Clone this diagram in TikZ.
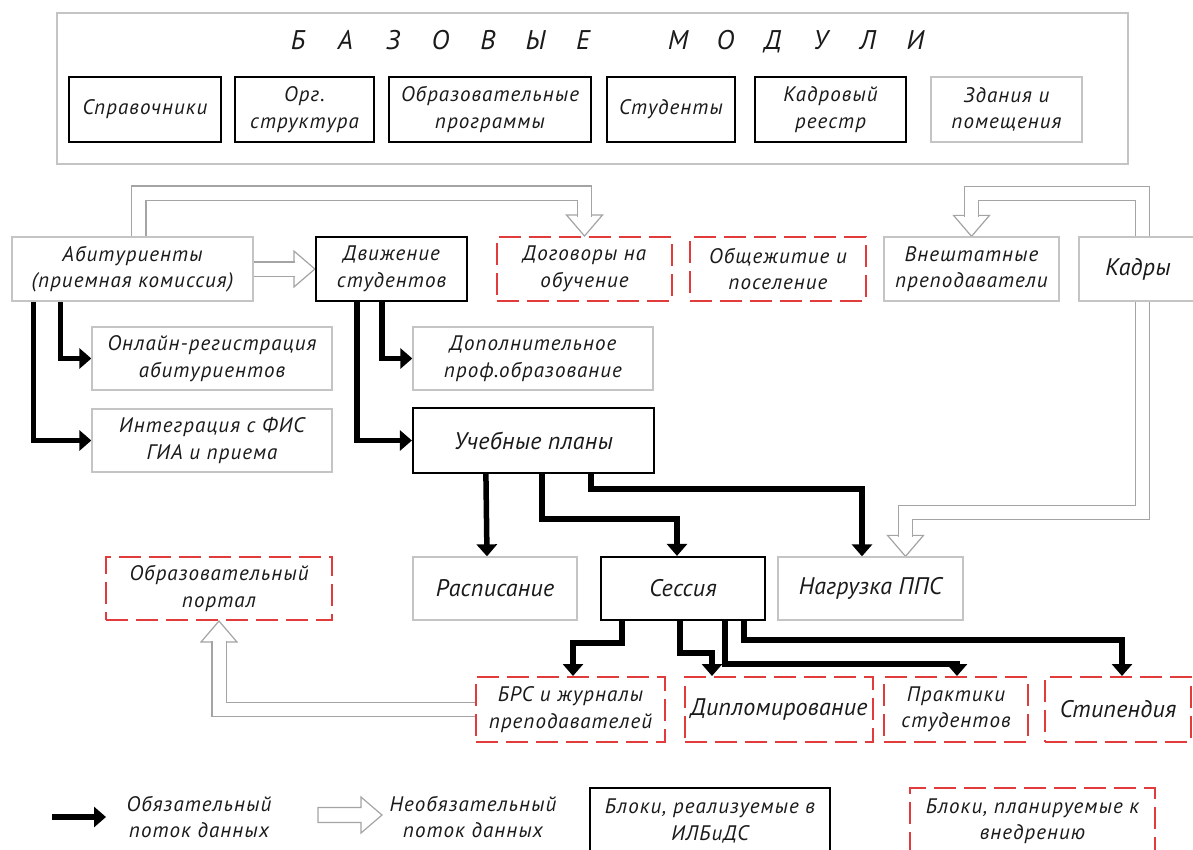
\documentclass[tikz,border=0pt]{standalone}
\usepackage{fontspec}
\setmainfont{PT Sans}
\usetikzlibrary{arrows.meta}
\definecolor{boxgray}{HTML}{C4C4C4}
\definecolor{argray}{HTML}{A4A4A4}
\definecolor{dred}{HTML}{E23B3B}
\definecolor{txt}{HTML}{1A1A1A}
\pgfdeclarelayer{bg}
\pgfsetlayers{bg,main}
\newcommand\titlel[1]{\makebox[47.5pt]{#1}}
\newcommand\hdown[1]{\filldraw[hhead] ([xshift=-18pt,yshift=21pt]#1) -- (#1) -- ([xshift=18pt,yshift=21pt]#1) -- cycle;}
\newcommand\hup[1]{\filldraw[hhead] ([xshift=-18pt,yshift=-21pt]#1) -- (#1) -- ([xshift=18pt,yshift=-21pt]#1) -- cycle;}
\newcommand\hright[1]{\filldraw[hhead] ([xshift=-21pt,yshift=18pt]#1) -- (#1) -- ([xshift=-21pt,yshift=-18pt]#1) -- cycle;}
\begin{document}
\begin{tikzpicture}[x=1pt,y=-1pt,
  base/.style={inner sep=0pt, align=center, text=txt, font=\fontsize{21}{26.5}\selectfont\itshape\addfontfeature{LetterSpace=5}},
  big/.style={font=\fontsize{24}{28}\selectfont\itshape\addfontfeature{LetterSpace=1}},
  blk/.style={base, draw=black, line width=2.2pt},
  gry/.style={base, draw=boxgray, line width=1.3pt},
  rdash/.style={base, draw=dred, line width=2pt, dash pattern=on 22pt off 8pt},
  sz/.style 2 args={minimum width=#1pt, minimum height=#2pt},
  req/.style={draw=black, line width=5.5pt, -{Triangle[length=12pt,width=20pt]}},
  hollow/.style={draw=argray, line width=1.2pt, double=white, double distance=13pt},
  hhead/.style={draw=argray, fill=white, line width=1.2pt, line join=miter}
]
\useasboundingbox (0,0) rectangle (1193,849);

% base modules
\node[gry, draw=boxgray, line width=1.5pt, sz={1071}{151}] (top) at (592.5,88.5) {};
\node[base, font=\fontsize{27}{30}\selectfont\itshape] (title) at (606.75,42)
  {\titlel{Б}\titlel{А}\titlel{З}\titlel{О}\titlel{В}\titlel{Ы}\titlel{Е}\titlel{}\titlel{М}\titlel{О}\titlel{Д}\titlel{У}\titlel{Л}\titlel{И}};
\node[blk, sz={152}{65}] (spr) at (145,109.5) {Справочники};
\node[blk, sz={139}{65}] (org) at (304.5,109.5) {Орг.\\структура};
\node[blk, sz={202}{65}] (obr) at (490,109.5) {Образовательные\\программы};
\node[blk, sz={128}{65}] (stud) at (671,109.5) {Студенты};
\node[blk, sz={151}{65}] (kreestr) at (830.5,109.5) {Кадровый\\реестр};
\node[gry, sz={151}{65}] (zdan) at (1006.5,109.5) {Здания и\\помещения};

% row 2
\node[gry, sz={241}{64}] (abit) at (132.5,269) {Абитуриенты\\(приемная комиссия)};
\node[blk, sz={151}{64}] (dvizh) at (391.5,269) {Движение\\студентов};
\node[rdash, sz={175}{64}] (dog) at (584.5,269) {Договоры на\\обучение};
\node[rdash, sz={176}{64}] (obsh) at (778,269) {Общежитие и\\поселение};
\node[gry, sz={175}{64}] (vnesh) at (971.5,269) {Внештатные\\преподаватели};
\node[gry, big, sz={118}{64}] (kadry) at (1138,269) {Кадры};

% rows 3-4
\node[gry, sz={240}{63}] (onl) at (212,358.5) {Онлайн-регистрация\\абитуриентов};
\node[gry, sz={240}{63}] (dop) at (533,358.5) {Дополнительное\\проф.образование};
\node[gry, sz={240}{63}] (integ) at (212,440.5) {Интеграция с ФИС\\ГИА и приема};
\node[blk, big, sz={241}{65}] (uch) at (533.5,440.5) {Учебные планы};

% row 5
\node[rdash, sz={226}{63}] (portal) at (219,588.5) {Образовательный\\портал};
\node[gry, big, sz={164}{63}] (rasp) at (495,588.5) {Расписание};
\node[blk, big, sz={164}{63}] (sess) at (683,588.5) {Сессия};
\node[gry, big, sz={185}{63}] (nagr) at (870.5,588.5) {Нагрузка ППС};
\coordinate (nagrin) at ([xshift=35pt]nagr.north);

% row 6
\node[rdash, sz={189}{65}] (brs) at (570.5,709.5) {БРС и журналы\\преподавателей};
\node[rdash, big, sz={188}{65}] (dipl) at (779,709.5) {Дипломирование};
\node[rdash, sz={144}{65}] (prak) at (956,709.5) {Практики\\студентов};
\node[rdash, big, sz={146}{65}] (stip) at (1118,709.5) {Стипендия};

% legend
\coordinate (lreq1) at (52,817);
\coordinate (lreq2) at (106,817);
\node[base] (lt1) at (199,817) {Обязательный\\поток данных};
\node[base] (lt2) at (473,817) {Необязательный\\поток данных};
\node[blk, sz={240}{66}] (lblk) at (710,821) {Блоки, реализуемые в\\ИЛБиДС};
\node[rdash, sz={245}{66}] (lred) at (1032.5,821) {Блоки, планируемые к\\внедрению};

\begin{pgfonlayer}{bg}
% required data flows
\draw[req] ([xshift=49pt]abit.south west) |- (onl.west);
\draw[req] ([xshift=22pt]abit.south west) |- (integ.west);
\draw[req] ([xshift=67pt]dvizh.south west) |- (dop.west);
\draw[req] ([xshift=42pt]dvizh.south west) |- (uch.west);
\draw[req] ([xshift=74pt]uch.south west) -- ([xshift=-8pt]rasp.north);
\draw[req] ([xshift=130pt]uch.south west) -- ++(0,45) -| ([xshift=-6pt]sess.north);
\draw[req] ([xshift=179pt]uch.south west) -- ++(0,15) -| ([xshift=-8.5pt]nagr.north);
\draw[req] ([xshift=22pt]sess.south west) -- ++(0,22) -| ([xshift=2.5pt]brs.north);
\draw[req] ([xshift=80pt]sess.south west) -- ++(0,32) -| ([xshift=-67pt]dipl.north);
\draw[req] ([xshift=125pt]sess.south west) -- ++(0,43) -| ([xshift=1pt]prak.north);
\draw[req] ([xshift=144pt]sess.south west) -- ++(0,19) -| ([xshift=4pt]stip.north);
\draw[req] (lreq1) -- (lreq2);

% optional data flows
\hdown{dog.north}
\draw[hollow] ([xshift=127.5pt]abit.north west) |- ([yshift=43pt]dog.north) -- ([yshift=19.5pt]dog.north);
\hdown{vnesh.north}
\draw[hollow] ([xshift=64pt]kadry.north west) |- ([yshift=43pt]vnesh.north) -- ([yshift=19.5pt]vnesh.north);
\hdown{nagrin}
\draw[hollow] ([xshift=64pt]kadry.south west) |- ([yshift=44pt]nagrin) -- ([yshift=19.5pt]nagrin);
\hright{dvizh.west}
\draw[hollow] (abit.east) -- ([xshift=-19.5pt]dvizh.west);
\hup{portal.south}
\draw[hollow] (brs.west) -| ([yshift=-19.5pt]portal.south);
\end{pgfonlayer}

% legend hollow arrow symbol
\filldraw[hhead] (318,807.5) -- (361,807.5) -- (361,797) -- (382,815) -- (361,833) -- (361,822.5) -- (318,822.5) -- cycle;
\end{tikzpicture}
\end{document}
